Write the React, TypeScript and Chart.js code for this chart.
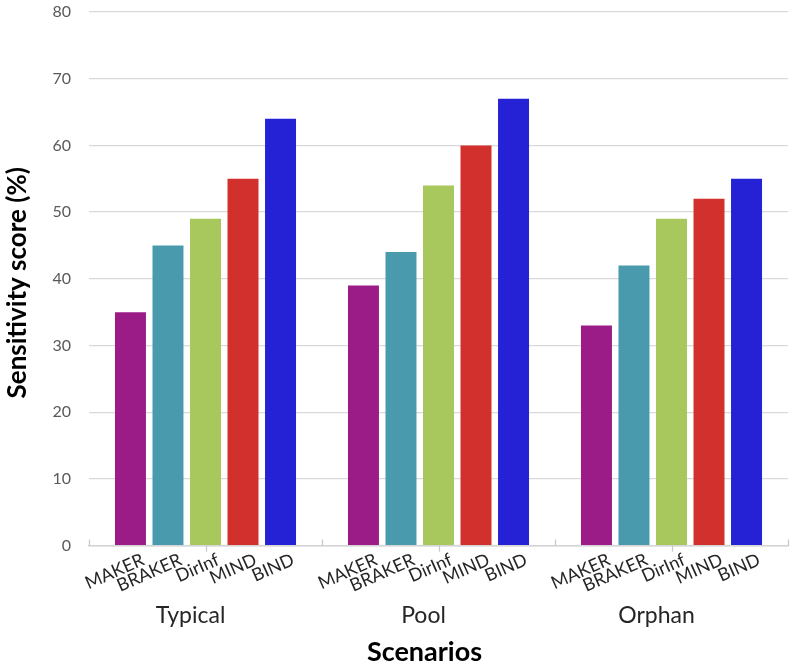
import React, { useEffect, useRef } from "react";
import { Chart, registerables } from "chart.js";

Chart.register(...registerables);

const scenarios = ["Typical", "Pool", "Orphan"];
const methods = ["MAKER", "BRAKER", "DirInf", "MIND", "BIND"];
const makerValues = [35, 39, 33];
const brakerValues = [45, 44, 42];
const dirInfValues = [49, 54, 49];
const mindValues = [55, 60, 52];
const bindValues = [64, 67, 55];
const methodColors = ["#9C1C87", "#4A9AAE", "#A8C85E", "#D2302D", "#2521D4"];
const yTicks = [0, 10, 20, 30, 40, 50, 60, 70, 80];
const xTitle = "Scenarios";
const yTitle = "Sensitivity score (%)";

const FONT = "Lato, 'Open Sans', sans-serif";
const LABEL_ANGLE = (24 * Math.PI) / 180;

const methodLabelPlugin = {
  id: "methodLabels",
  afterDatasetsDraw(chart: any) {
    const ctx = chart.ctx;
    const xScale = chart.scales.x;
    const area = chart.chartArea;
    const base = area.bottom;
    ctx.save();
    ctx.strokeStyle = "#c8c8c8";
    ctx.lineWidth = 1.3;
    const n = scenarios.length;
    const w = (xScale.right - xScale.left) / n;
    for (let i = 0; i <= n; i++) {
      const bx = Math.round(xScale.left + i * w) + 0.5;
      ctx.beginPath();
      ctx.moveTo(bx, base);
      ctx.lineTo(bx, base - 6);
      ctx.stroke();
    }
    for (let i = 0; i < n; i++) {
      const cx = Math.round(xScale.getPixelForValue(i)) + 0.5;
      ctx.beginPath();
      ctx.moveTo(cx, base);
      ctx.lineTo(cx, base + 6);
      ctx.stroke();
    }
    ctx.font = `18px ${FONT}`;
    ctx.fillStyle = "#262626";
    ctx.textAlign = "right";
    ctx.textBaseline = "top";
    chart.data.datasets.forEach((ds: any, di: number) => {
      const meta = chart.getDatasetMeta(di);
      meta.data.forEach((bar: any) => {
        ctx.save();
        ctx.translate(bar.x + 9, base + 5);
        ctx.rotate(-LABEL_ANGLE);
        ctx.fillText(ds.label, 0, 0);
        ctx.restore();
      });
    });
    // axis titles
    ctx.fillStyle = "#000000";
    ctx.textAlign = "center";
    ctx.textBaseline = "middle";
    ctx.font = `bold 27px ${FONT}`;
    ctx.fillText(xTitle, (area.left + area.right) / 2 - 14, 652);
    ctx.save();
    ctx.translate(18, (area.top + area.bottom) / 2 + 4);
    ctx.rotate(-Math.PI / 2);
    ctx.font = `bold 26px ${FONT}`;
    ctx.fillText(yTitle, 0, 0);
    ctx.restore();
    ctx.restore();
  },
};

export default function App() {
  const canvasRef = useRef<HTMLCanvasElement | null>(null);

  useEffect(() => {
    if (!canvasRef.current) return;
    const seriesValues = [makerValues, brakerValues, dirInfValues, mindValues, bindValues];
    const chart = new Chart(canvasRef.current, {
      type: "bar",
      data: {
        labels: scenarios,
        datasets: methods.map((m, i) => ({
          label: m,
          data: seriesValues[i],
          backgroundColor: methodColors[i],
          borderWidth: 0,
          categoryPercentage: 0.805,
          barPercentage: 0.826,
        })),
      },
      options: {
        animation: false,
        responsive: false,
        maintainAspectRatio: false,
        layout: { padding: { top: 12, right: 7, left: 0, bottom: 0 } },
        plugins: {
          legend: { display: false },
          tooltip: { enabled: false },
        },
        scales: {
          x: {
            offset: true,
            grid: { display: false },
            border: { display: true, color: "#d4d4d4", width: 1.5 },
            ticks: {
              font: { family: FONT, size: 23 },
              color: "#262626",
              padding: 48,
              labelOffset: -15,
              maxRotation: 0,
              minRotation: 0,
            },
            title: { display: false, text: xTitle },
            afterFit(scale: any) {
              scale.height = 121.4;
              scale.paddingTop = 0;
            },
          },
          y: {
            min: 0,
            max: 80,
            afterBuildTicks(scale: any) {
              scale.ticks = yTicks.map((v) => ({ value: v }));
            },
            grid: { color: "#d9d9d9", lineWidth: 1.3, drawTicks: false },
            border: { display: false },
            ticks: {
              font: { family: FONT, size: 16 },
              color: "#595959",
              padding: 18,
            },
            title: { display: false, text: yTitle },
            afterFit(scale: any) {
              scale.width = 89;
              scale.paddingTop = 0;
              scale.paddingBottom = 0;
            },
          },
        },
      },
      plugins: [methodLabelPlugin],
    });
    return () => chart.destroy();
  }, []);

  return (
    <div style={{ position: "fixed", left: 0, top: 0, width: 795, height: 667, background: "#ffffff" }}>
      <canvas ref={canvasRef} width={795} height={667} style={{ width: 795, height: 667 }} />
    </div>
  );
}
